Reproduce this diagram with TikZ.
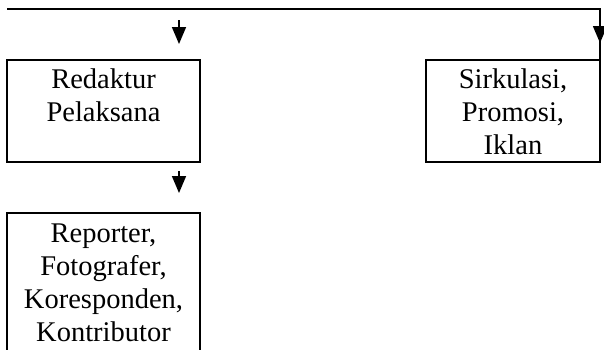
\documentclass[tikz,border=0pt]{standalone}
\usepackage{fontspec}
\setmainfont{Liberation Serif}
\usetikzlibrary{arrows.meta}
\begin{document}
\begin{tikzpicture}[x=1pt,y=-1pt,
  boxnode/.style={draw, line width=2pt, inner sep=0pt, outer sep=0pt, anchor=north west},
  txt/.style={anchor=base, inner sep=0pt, text width=190pt, align=center, font=\fontsize{28.5}{33}\selectfont},
  conn/.style={line width=2pt},
  arr/.style={line width=1.6pt, -{Triangle[width=14pt,length=17pt]}}]
\useasboundingbox (0,0) rectangle (604,349);
\clip (0,0) rectangle (604,349);
\node[boxnode, minimum width=193pt, minimum height=102pt] (red) at (7,60) {};
\node[boxnode, minimum width=174pt, minimum height=102pt] (sirk) at (426,60) {};
\node[boxnode, minimum width=193pt, minimum height=150pt] (rep) at (7,213) {};
\node[txt] (redt) at (103.5,88) {Redaktur\\Pelaksana};
\node[txt] (sirkt) at (513,88) {Sirkulasi,\\Promosi,\\Iklan};
\node[txt] (rept) at (103.5,242) {Reporter,\\Fotografer,\\Koresponden,\\Kontributor};
\coordinate (tl) at (7,9);
\draw[conn] (tl) -| (sirk.north east);
\coordinate (a1s) at (179,20);
\coordinate (a1e) at (179,44);
\draw[arr] (a1s) -- (a1e);
\coordinate (a2s) at (600,20);
\coordinate (a2e) at (600,43);
\draw[arr] (a2s) -- (a2e);
\coordinate (a3s) at (179,171);
\coordinate (a3e) at (179,193);
\draw[arr] (a3s) -- (a3e);
\end{tikzpicture}
\end{document}
